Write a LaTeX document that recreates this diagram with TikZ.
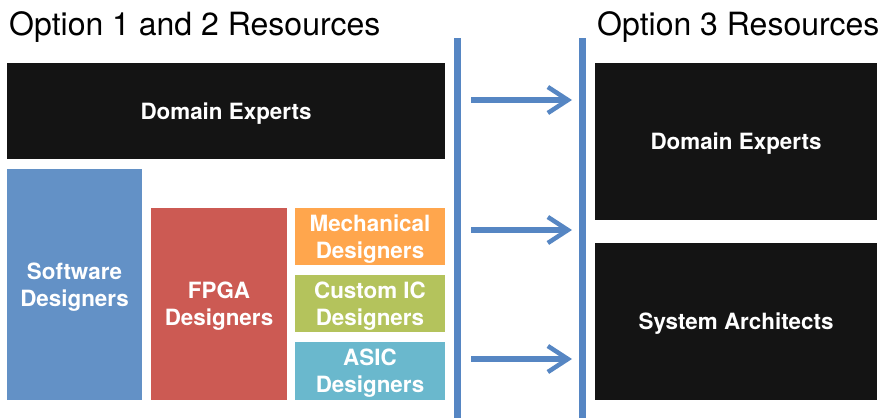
\documentclass[tikz,border=0pt]{standalone}
\usepackage{fontspec}
\setmainfont{TeX Gyre Heros}
\usetikzlibrary{arrows.meta}
\definecolor{boxblack}{HTML}{141414}
\definecolor{swblue}{HTML}{6391C6}
\definecolor{fpgared}{HTML}{CC5A53}
\definecolor{mechorange}{HTML}{FFA64D}
\definecolor{icgreen}{HTML}{B4C35C}
\definecolor{asiccyan}{HTML}{6AB8CD}
\definecolor{lineblue}{HTML}{5686C3}
\tikzset{
  rbox/.style={fill=#1, draw=none, inner sep=0pt, text=white, align=center,
    text depth=0pt,
    font=\fontsize{22.4}{27}\selectfont\bfseries},
  title/.style={anchor=base west, inner sep=0pt, text=black,
    font=\fontsize{32}{36}\selectfont},
  divider/.style={draw=lineblue, line width=7pt},
  flow/.style={draw=lineblue, line width=6pt,
    -{Straight Barb[length=20pt, width=26pt, line width=4.5pt]}}
}
\begin{document}
\begin{tikzpicture}[x=1pt, y=-1pt]
\useasboundingbox (0,0) rectangle (879,418);
% titles
\node[title] (t1) at (9,35) {Option 1 and 2 Resources};
\node[title] (t2) at (597,35) {Option 3 Resources};
% left boxes
\node[rbox=boxblack, minimum width=438pt, minimum height=96pt] (dom1) at (226,111) {Domain Experts};
\node[rbox=swblue, minimum width=135pt, minimum height=231pt] (sw) at (74.5,284.5) {Software\\Designers};
\node[rbox=fpgared, minimum width=136pt, minimum height=192pt] (fpga) at (219,304) {FPGA\\Designers};
\node[rbox=mechorange, minimum width=150pt, minimum height=57pt] (mech) at (370,236.5) {Mechanical\\Designers};
\node[rbox=icgreen, minimum width=150pt, minimum height=57pt] (cic) at (370,303.5) {Custom IC\\Designers};
\node[rbox=asiccyan, minimum width=150pt, minimum height=58pt] (asic) at (370,371) {ASIC\\Designers};
% right boxes
\node[rbox=boxblack, minimum width=282pt, minimum height=157pt] (dom2) at (736,141.5) {Domain Experts};
\node[rbox=boxblack, minimum width=282pt, minimum height=157pt] (arch) at (736,321.5) {System Architects};
% dividers
\coordinate (v1t) at (457.5,38);
\coordinate (v1b) at (457.5,418);
\coordinate (v2t) at (582.5,38);
\coordinate (v2b) at (582.5,418);
\draw[divider] (v1t) -- (v1b);
\draw[divider] (v2t) -- (v2b);
% arrows
\coordinate (a1s) at (471,100);
\coordinate (a1e) at (572,100);
\coordinate (a2s) at (471,230);
\coordinate (a2e) at (572,230);
\coordinate (a3s) at (471,359);
\coordinate (a3e) at (572,359);
\draw[flow] (a1s) -- (a1e);
\draw[flow] (a2s) -- (a2e);
\draw[flow] (a3s) -- (a3e);
\end{tikzpicture}
\end{document}
